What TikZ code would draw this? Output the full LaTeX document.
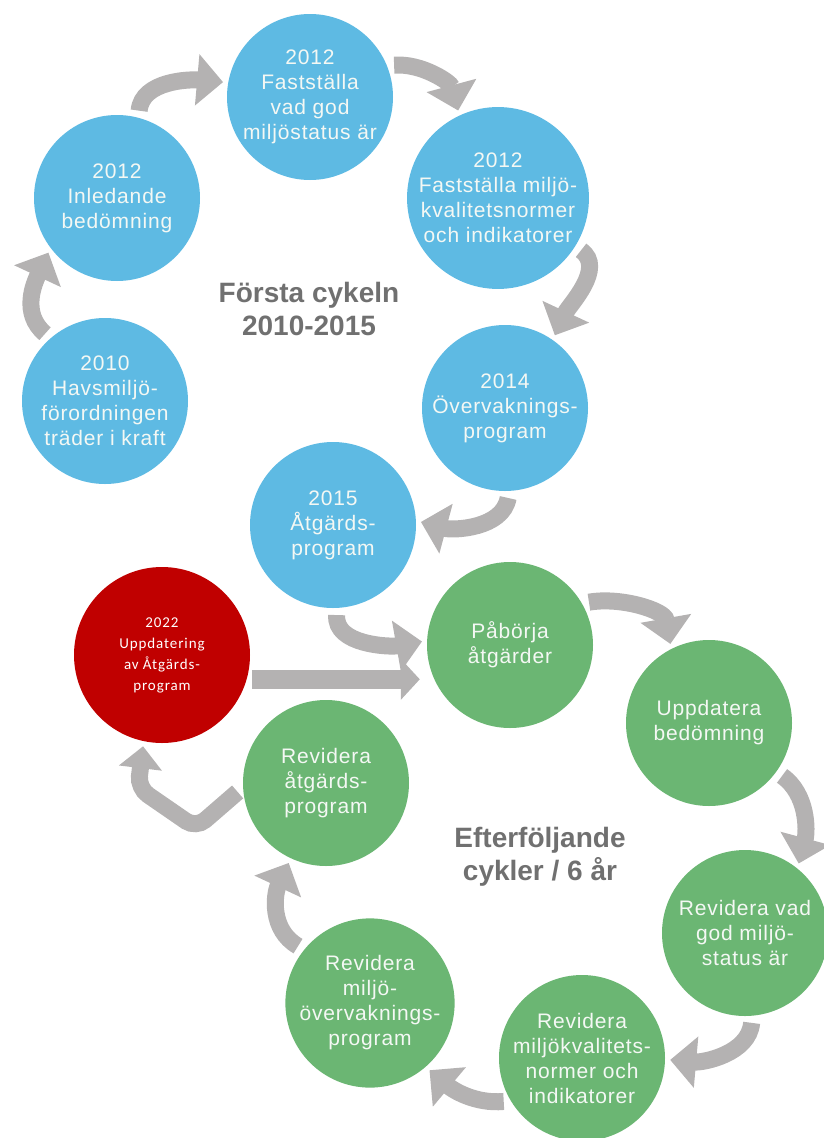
\documentclass[tikz,border=0pt]{standalone}
\usepackage{fontspec}
\setmainfont{Liberation Sans}
\newfontfamily\calfont[LetterSpace=6]{Carlito}
\usetikzlibrary{arrows.meta}
\definecolor{havblue}{HTML}{5EBAE3}
\definecolor{havgreen}{HTML}{6BB673}
\definecolor{havred}{HTML}{C00000}
\definecolor{arrowgray}{HTML}{B4B2B2}
\definecolor{headgray}{HTML}{707070}
\definecolor{circtext}{HTML}{F4F8F4}

\begin{document}
\begin{tikzpicture}[x=1pt, y=1pt,
  stage/.style={circle, minimum size=166pt, inner sep=0pt, text=circtext, align=center,
    font=\addfontfeatures{LetterSpace=4}\fontsize{21}{25}\selectfont},
  firststage/.style={stage, fill=havblue},
  nextstage/.style={stage, fill=havgreen},
  flow/.style={draw=arrowgray, line width=17pt, -{Triangle[width=50pt,length=26pt]},
    shorten <=7pt, shorten >=5pt},
  straightflow/.style={draw=arrowgray, line width=19pt, -{Triangle[width=40pt,length=19pt]},
    shorten <=5pt, shorten >=7pt},
  cycletitle/.style={text=headgray, align=center, font=\bfseries\fontsize{28}{33}\selectfont}]
  \useasboundingbox (0,0) rectangle (823,-1138);

  \node[firststage] (fsvad) at (310,-97) {2012\\Fastställa\\vad god\\miljöstatus är};
  \node[firststage] (inled) at (117,-198) {2012\\Inledande\\bedömning};
  \node[firststage] (fsmkn) at (498,-198) {2012\\Fastställa miljö-\\kvalitetsnormer\\och indikatorer};
  \node[firststage] (hav) at (105,-401) {2010\\Havsmiljö-\\förordningen\\träder i kraft};
  \node[firststage] (overv) at (505,-408) {2014\\Övervaknings-\\program};
  \node[firststage] (atg15) at (333,-525) {2015\\Åtgärds-\\program};

  \node[stage, fill=havred, minimum size=176pt, text=white,
    font=\calfont\fontsize{15}{21}\selectfont] (upd22) at (162,-655)
    {2022\\Uppdatering\\av Åtgärds-\\program};

  \node[nextstage] (pabo) at (510,-645) {Påbörja\\åtgärder};
  \node[nextstage] (uppd) at (709,-723) {Uppdatera\\bedömning};
  \node[nextstage] (revvad) at (745,-933) {Revidera vad\\god miljö-\\status är};
  \node[nextstage] (revmkn) at (582,-1058) {Revidera\\miljökvalitets-\\normer och\\indikatorer};
  \node[nextstage] (revov) at (370,-1003) {Revidera\\miljö-\\övervaknings-\\program};
  \node[nextstage] (revatg) at (326,-783) {Revidera\\åtgärds-\\program};

  \node[cycletitle] (cyc1) at (309,-309) {Första cykeln\\2010-2015};
  \node[cycletitle] (cyc2) at (540,-857) {Efterföljande\\cykler / 6 år};

  \coordinate (bendA) at (196,-828);
  \coordinate (bendB) at (138,-788);

  \draw[flow] (hav.131) to[out=140,in=245,looseness=1.1] (inled.217);
  \draw[flow] (inled.75) to[out=85,in=175] (fsvad.170);
  \draw[flow] (fsvad.22) to[out=5,in=105] (fsmkn.115);
  \draw[flow] (fsmkn.-32) to[out=-35,in=65] (overv.55);
  \draw[flow] (overv.-87) to[out=-100,in=-15] (atg15.3);
  \draw[flow] (atg15.-87) to[out=-95,in=190] (pabo.177);
  \draw[straightflow] (upd22.-16) -- (upd22.-16 -| pabo.west);
  \draw[flow, rounded corners=12pt, -{Triangle[width=42pt,length=22pt]}]
    (revatg.183) -- (bendA) -- (bendB) -- (upd22.258);
  \draw[flow] (pabo.30) to[out=10,in=100] (uppd.117);
  \draw[flow] (uppd.-36) to[out=-35,in=75] (revvad.51);
  \draw[flow] (revvad.-85) to[out=-95,in=-5] (revmkn.-1);
  \draw[flow] (revmkn.211) to[out=185,in=-40] (revov.-49);
  \draw[flow] (revov.141) to[out=150,in=245,looseness=1.1] (revatg.245);
\end{tikzpicture}
\end{document}
